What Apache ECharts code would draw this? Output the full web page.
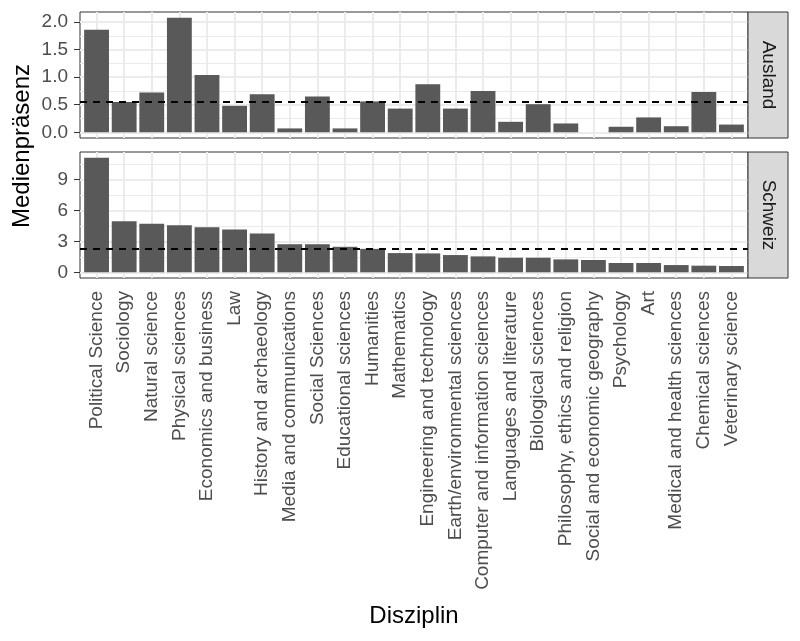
<!DOCTYPE html>
<html><head><meta charset="utf-8">
<script src="https://cdn.jsdelivr.net/npm/echarts@6/dist/echarts.min.js"></script>
<style>html,body{margin:0;padding:0;background:#fff}#c{width:800px;height:641px}</style>
</head><body><div id="c"></div>
<script>
const categories = ['Political Science','Sociology','Natural science','Physical sciences','Economics and business','Law','History and archaeology','Media and communications','Social Sciences','Educational sciences','Humanities','Mathematics','Engineering and technology','Earth/environmental sciences','Computer and information sciences','Languages and literature','Biological sciences','Philosophy, ethics and religion','Social and economic geography','Psychology','Art','Medical and health sciences','Chemical sciences','Veterinary science'];
const auslandValues = [1.86,0.55,0.72,2.08,1.04,0.48,0.69,0.07,0.65,0.07,0.56,0.43,0.87,0.43,0.75,0.19,0.51,0.16,0,0.10,0.27,0.11,0.73,0.14];
const schweizValues = [11.11,4.96,4.71,4.55,4.36,4.16,3.75,2.72,2.72,2.47,2.27,1.86,1.83,1.67,1.54,1.41,1.41,1.25,1.19,0.90,0.90,0.70,0.64,0.61];
const auslandMean = 0.55;
const schweizMean = 2.27;
const auslandTicks = [0, 0.5, 1, 1.5, 2];
const auslandMinor = [0.25, 0.75, 1.25, 1.75];
const schweizTicks = [0, 3, 6, 9];
const schweizMinor = [1.5, 4.5, 7.5, 10.5];
const panelNames = ['Ausland', 'Schweiz'];
const xTitle = 'Disziplin';
const yTitle = 'Medienpräsenz';

const FONT = '"Liberation Sans", Arial, Helvetica, sans-serif';
const TXT = 19;
const panels = [
  {top: 12, h: 126, vals: auslandValues, mean: auslandMean, ticks: auslandTicks, minor: auslandMinor, fmt: v => v.toFixed(1)},
  {top: 152, h: 126, vals: schweizValues, mean: schweizMean, ticks: schweizTicks, minor: schweizMinor, fmt: v => String(v)}
];
const L = 80, W = 668;
const n = categories.length;
const unit = W / (n - 1 + 1.2);
const inset = 0.1 * unit;

const grids = [], xAxes = [], yAxes = [], series = [], graphics = [];
panels.forEach((p, k) => {
  const m = Math.max(...p.vals);
  const ymin = -0.05 * m, ymax = 1.05 * m;
  const gFull = grids.length;
  grids.push({left: L, top: p.top, width: W, height: p.h, show: true, borderColor: '#333333', borderWidth: 1, backgroundColor: '#ffffff', containLabel: false});
  grids.push({left: L + inset, top: p.top, width: W - 2 * inset, height: p.h, containLabel: false});
  const gIn = gFull + 1;
  xAxes.push({type: 'category', gridIndex: gFull, data: categories, show: false});
  xAxes.push({type: 'category', gridIndex: gIn, data: categories, boundaryGap: true,
    axisLine: {show: false}, splitLine: {show: false},
    axisTick: {show: k === 1, alignWithLabel: true, length: 6, lineStyle: {color: '#333333', width: 1}},
    axisLabel: {show: k === 1, rotate: 90, interval: 0, margin: 13, color: '#4D4D4D', fontSize: TXT, fontFamily: FONT}
  });
  yAxes.push({type: 'value', gridIndex: gFull, min: ymin, max: ymax,
    axisLine: {show: false}, splitLine: {show: false},
    axisTick: {show: true, customValues: p.ticks, length: 6, lineStyle: {color: '#333333', width: 1}},
    axisLabel: {show: true, customValues: p.ticks, margin: 12, color: '#4D4D4D', fontSize: TXT, fontFamily: FONT, formatter: p.fmt}
  });
  yAxes.push({type: 'value', gridIndex: gIn, min: ymin, max: ymax, show: false, splitLine: {show: false}});
  // horizontal grid lines
  series.push({type: 'line', xAxisIndex: gFull, yAxisIndex: gFull, data: [], z: 1, silent: true,
    markLine: {silent: true, z: 1, symbol: ['none', 'none'], label: {show: false}, animation: false,
      lineStyle: {color: '#EBEBEB', type: 'solid'},
      data: p.ticks.map(v => ({yAxis: v, lineStyle: {width: 2, color: '#EBEBEB', type: 'solid'}}))
        .concat(p.minor.map(v => ({yAxis: v, lineStyle: {width: 1, color: '#EBEBEB', type: 'solid'}})))}
  });
  // vertical grid lines
  series.push({type: 'line', xAxisIndex: gIn, yAxisIndex: gIn, data: [], z: 1, silent: true,
    markLine: {silent: true, z: 1, symbol: ['none', 'none'], label: {show: false}, animation: false,
      lineStyle: {color: '#EBEBEB', width: 2, type: 'solid'},
      data: categories.map(c => ({xAxis: c}))}
  });
  series.push({type: 'bar', name: panelNames[k], xAxisIndex: gIn, yAxisIndex: gIn, data: p.vals, z: 2,
    barCategoryGap: '10%', itemStyle: {color: '#595959'}, animation: false, silent: true});
  series.push({type: 'line', xAxisIndex: gFull, yAxisIndex: gFull, data: [], z: 3, silent: true,
    markLine: {silent: true, z: 5, symbol: ['none', 'none'], label: {show: false}, animation: false,
      lineStyle: {color: '#000000', width: 2, type: [7, 6]},
      data: [{yAxis: p.mean}]}
  });
  graphics.push({type: 'rect', shape: {x: L + W, y: p.top, width: 40, height: p.h},
    style: {fill: '#D9D9D9', stroke: '#333333', lineWidth: 1}, z: 10});
  graphics.push({type: 'text', x: L + W + 20, y: p.top + p.h / 2, rotation: -Math.PI / 2,
    style: {text: panelNames[k], fontSize: TXT, fontFamily: FONT, fill: '#1A1A1A', align: 'center', verticalAlign: 'middle'}, z: 11});
});
graphics.push({type: 'text', x: 22, y: 146, rotation: Math.PI / 2,
  style: {text: yTitle, fontSize: 24, fontFamily: FONT, fill: '#000000', align: 'center', verticalAlign: 'middle'}});
graphics.push({type: 'text', x: L + W / 2, y: 616,
  style: {text: xTitle, fontSize: 24, fontFamily: FONT, fill: '#000000', align: 'center', verticalAlign: 'middle'}});

const chart = echarts.init(document.getElementById('c'), null, {renderer: 'canvas'});
chart.setOption({
  animation: false,
  backgroundColor: '#ffffff',
  grid: grids, xAxis: xAxes, yAxis: yAxes, series: series, graphic: graphics
});
</script></body></html>
